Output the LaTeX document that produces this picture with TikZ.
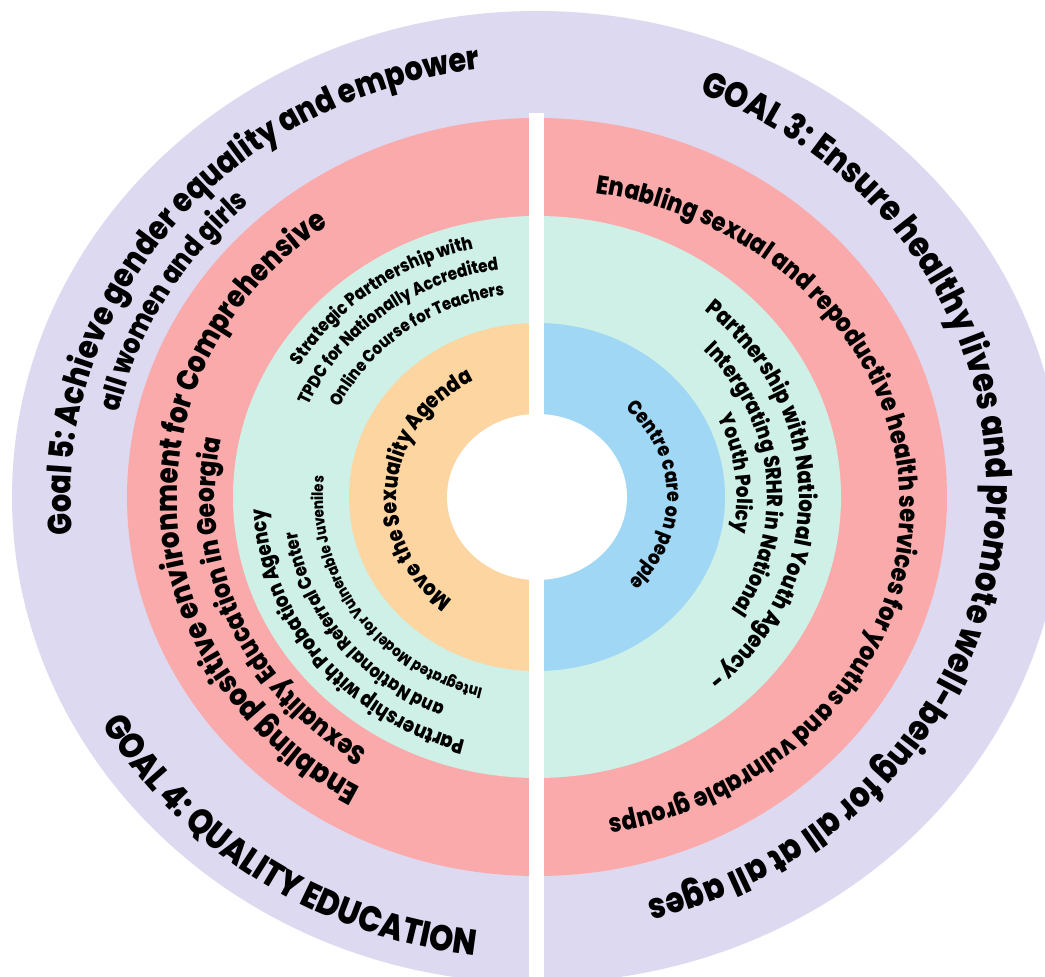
\documentclass[tikz,border=0pt]{standalone}
\usepackage{fontspec}
\setmainfont{Poppins}[FakeStretch=0.86, BoldFont={* ExtraBold}]
\usetikzlibrary{decorations.text,positioning}

\definecolor{lavring}{HTML}{DDD9F1}
\definecolor{pinkring}{HTML}{FAAAAA}
\definecolor{mintring}{HTML}{CEF0E6}
\definecolor{peachring}{HTML}{FDD5A0}
\definecolor{skyring}{HTML}{A0D7F5}

\newcommand{\ringfont}[1]{\bfseries\fontsize{#1}{#1}\selectfont}

\tikzset{
  ringtext/.style={decorate, decoration={text along path, text align=center, text={#1}}}
}

\begin{document}
\begin{tikzpicture}[x=1pt, y=1pt]
\useasboundingbox (0,0) rectangle (1045,977);
\clip (0,0) rectangle (1045,977);
\coordinate (c) at (537,480);
\coordinate (c3) at (537,488);
\coordinate (cs) at (537,470);

% rings
\fill[lavring] (c) ellipse[x radius=525, y radius=486];
\fill[pinkring] (c) ellipse[x radius=410, y radius=379];
\fill[mintring] (c) ellipse[x radius=304, y radius=281];
\fill[peachring] (c) ++(90:188 and 174) arc[start angle=90, end angle=270, x radius=188, y radius=174] -- cycle;
\fill[skyring] (c) ++(-90:188 and 174) arc[start angle=-90, end angle=90, x radius=188, y radius=174] -- cycle;
\fill[white] (c) ellipse[x radius=90, y radius=83];
\fill[white] (528.5,-5) rectangle (543.5,864);

% left half
\path[ringtext={|\ringfont{33.5}|Goal 5: Achieve gender equality and empower}]
  (c) ++(210:466 and 431) arc[start angle=210, end angle=73.6, x radius=466, y radius=431];
\path[ringtext={|\ringfont{28.8}|all women and girls}]
  (c) ++(188.5:428 and 396) arc[start angle=188.5, end angle=112.5, x radius=428, y radius=396];
\path[ringtext={|\ringfont{30.5}|Enabling positive environment for Comprehensive}]
  (c) ++(263:360 and 333) arc[start angle=263, end angle=103, x radius=360, y radius=333];
\path[ringtext={|\ringfont{27}|Sexuality Education in Georgia}]
  (c) ++(259:322 and 298) arc[start angle=259, end angle=147, x radius=322, y radius=298];
\path[ringtext={|\ringfont{18.3}|Strategic Partnership with}]
  (c) ++(172:276 and 255) arc[start angle=172, end angle=82, x radius=276, y radius=255];
\path[ringtext={|\ringfont{17.8}|TPDC for Nationally Accredited}]
  (c) ++(178.5:249 and 230) arc[start angle=178.5, end angle=78.5, x radius=249, y radius=230];
\path[ringtext={|\ringfont{17.3}|Online Course for Teachers}]
  (c) ++(177:220 and 204) arc[start angle=177, end angle=77, x radius=220, y radius=204];
\path[ringtext={|\ringfont{21}|Partnership with Probation Agency}]
  (c) ++(274:272 and 252) arc[start angle=274, end angle=162, x radius=272, y radius=252];
\path[ringtext={|\ringfont{18.8}|and National Referral Center}]
  (c) ++(269.5:243 and 225) arc[start angle=269.5, end angle=165.5, x radius=243, y radius=225];
\path[ringtext={|\ringfont{15.5}|Integrated Model for Vulnerable Juveniles}]
  (c) ++(274:214 and 198) arc[start angle=274, end angle=154, x radius=214, y radius=198];
\path[ringtext={|\ringfont{22.1}|Move the Sexuality Agenda}]
  (c) ++(255:140 and 130) arc[start angle=255, end angle=95, x radius=140, y radius=130];
\path[ringtext={|\ringfont{36}|GOAL 4: QUALITY EDUCATION}]
  (c) ++(175:500 and 462) arc[start angle=175, end angle=295, x radius=500, y radius=462];

% right half
\path[ringtext={|\ringfont{35.5}|GOAL 3: Ensure healthy lives and promote well-being for all at all ages}]
  (c3) ++(95:450 and 424) arc[start angle=95, end angle=-102, x radius=450, y radius=424];
\path[ringtext={|\ringfont{26}|Enabling sexual and repoductive health services for youths and vulnrable groups}]
  (cs) ++(100:363 and 318) arc[start angle=100, end angle=-98, x radius=363, y radius=318];
\path[ringtext={|\ringfont{23}|Partnership with National Youth Agency -}]
  (c) ++(68.5:262 and 242) arc[start angle=68.5, end angle=-67.5, x radius=262, y radius=242];
\path[ringtext={|\ringfont{21.9}|Intergrating SRHR in National}]
  (c) ++(65.5:230 and 213) arc[start angle=65.5, end angle=-54.5, x radius=230, y radius=213];
\path[ringtext={|\ringfont{21.2}|Youth Policy}]
  (c) ++(47:200 and 185) arc[start angle=47, end angle=-33, x radius=200, y radius=185];
\path[ringtext={|\ringfont{20.2}|Centre care on people}]
  (c) ++(71:130 and 120) arc[start angle=71, end angle=-69, x radius=130, y radius=120];
\end{tikzpicture}
\end{document}
